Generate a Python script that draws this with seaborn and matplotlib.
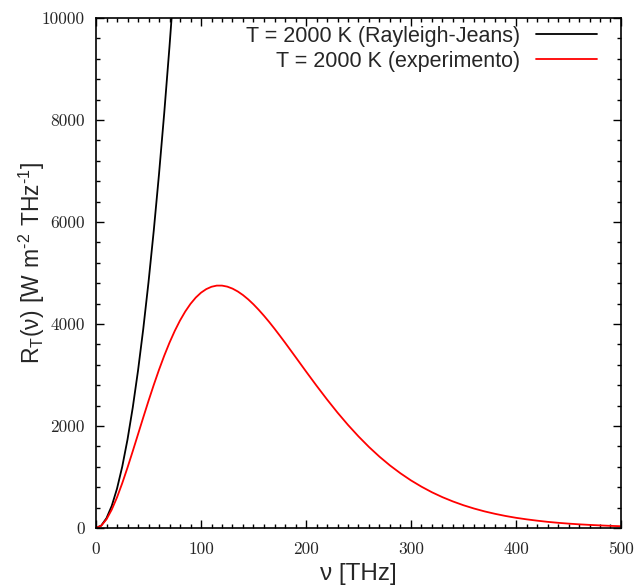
import matplotlib
matplotlib.use('Agg')
from matplotlib import pyplot as plt
from matplotlib.ticker import MultipleLocator
import seaborn as sns

# frequencies [THz] and radiancy [W m^-2 THz^-1]
nu_rj = [0, 5, 10, 15, 20, 25, 30, 35, 40, 45, 50, 55, 60, 65, 70, 75]
r_rj = [0, 48, 193, 434, 771, 1204, 1734, 2361, 3083, 3902, 4818, 5829,
        6937, 8141, 9442, 10839]

nu_exp = [0, 5, 10, 15, 20, 25, 30, 35, 40, 45, 50, 55, 60, 65, 70, 75, 80,
          85, 90, 95, 100, 105, 110, 115, 120, 125, 130, 135, 140, 145, 150,
          155, 160, 165, 170, 175, 180, 185, 190, 195, 200, 210, 220, 230,
          240, 250, 260, 270, 280, 290, 300, 310, 320, 330, 340, 350, 360,
          370, 380, 390, 400, 410, 420, 430, 440, 450, 460, 470, 480, 490, 500]
r_exp = [0, 45, 170, 360, 600, 879, 1184, 1506, 1836, 2167, 2492, 2805, 3102,
         3379, 3634, 3864, 4068, 4245, 4395, 4518, 4614, 4684, 4730, 4753,
         4753, 4733, 4694, 4638, 4567, 4482, 4385, 4277, 4161, 4038, 3908,
         3773, 3636, 3495, 3354, 3212, 3070, 2791, 2521, 2263, 2021, 1796,
         1588, 1398, 1226, 1072, 933, 810, 700, 604, 520, 446, 382, 326, 278,
         236, 200, 170, 144, 121, 102, 86, 72, 61, 51, 42, 35]

labels = ['T = 2000 K (Rayleigh-Jeans)', 'T = 2000 K (experimento)']

sns.set_style('ticks')
plt.rcParams['font.family'] = ['Liberation Sans', 'DejaVu Sans']
plt.rcParams['mathtext.fontset'] = 'custom'
plt.rcParams['mathtext.rm'] = 'Liberation Sans'

fig = plt.figure(figsize=(6.34, 5.85), dpi=100)
ax = fig.add_axes([96 / 634, 57 / 585, 525 / 634, 510 / 585])

sns.lineplot(x=nu_rj, y=r_rj, color='black', linewidth=1.3, label=labels[0], ax=ax)
sns.lineplot(x=nu_exp, y=r_exp, color='#ff0000', linewidth=1.3, label=labels[1], ax=ax)

ax.set_xlim(0, 500)
ax.set_ylim(0, 10000)
ax.xaxis.set_major_locator(MultipleLocator(100))
ax.xaxis.set_minor_locator(MultipleLocator(10))
ax.yaxis.set_major_locator(MultipleLocator(2000))
ax.yaxis.set_minor_locator(MultipleLocator(400))
ax.tick_params(which='both', direction='in', top=True, right=True, width=1, color='black')
ax.tick_params(which='major', length=6)
ax.tick_params(which='minor', length=3)
ax.tick_params(axis='x', pad=10)
ax.tick_params(axis='y', pad=8)
for lab in ax.get_xticklabels() + ax.get_yticklabels():
    lab.set_fontfamily('cmr10')
    lab.set_fontsize(12.5)
for sp in ax.spines.values():
    sp.set_linewidth(1.2)
    sp.set_color('black')

ax.set_xlabel('ν [THz]', fontsize=17.5)
ax.set_ylabel('$\\mathregular{R_T(ν)\\ [W\\ m^{\u2010 2}\\ THz^{\u2010 1}]}$', fontsize=16.5)
ax.xaxis.set_label_coords(0.5, -0.068)
ax.yaxis.set_label_coords(-0.093, 0.52)

ax.legend(loc='upper right', bbox_to_anchor=(501 / 525, 0.985), frameon=False,
          markerfirst=False, fontsize=15.5, handlelength=2.85, labelspacing=0.2,
          borderaxespad=0, borderpad=0, handletextpad=0.7)

fig.savefig('out.png', dpi=100)
